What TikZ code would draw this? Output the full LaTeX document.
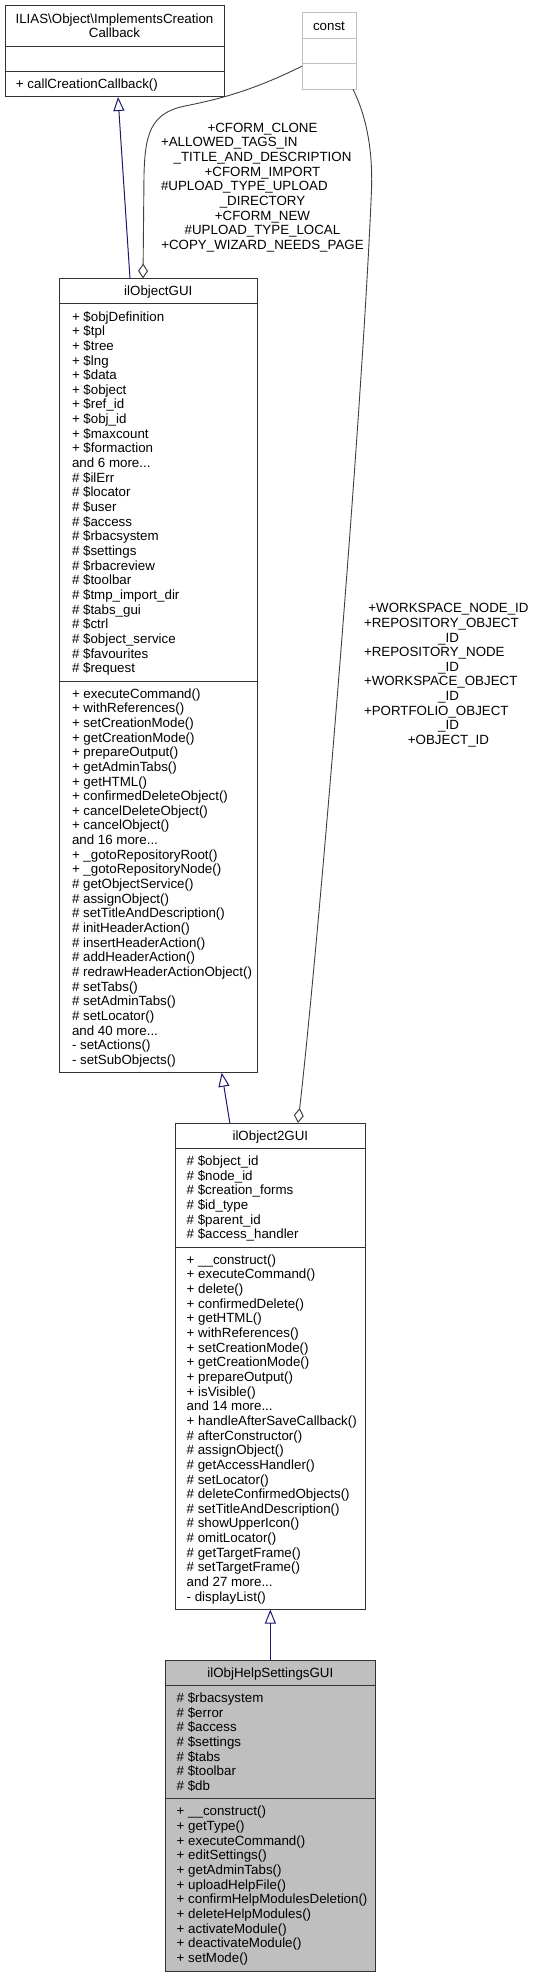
\documentclass[tikz,border=0pt]{standalone}
\usepackage{fontspec}
\setmainfont{Liberation Sans}
\usetikzlibrary{arrows.meta}
\definecolor{inhcol}{HTML}{191970}
\definecolor{aggcol}{HTML}{404040}
\definecolor{boxcol}{HTML}{333333}
\definecolor{constcol}{HTML}{BFBFBF}
\definecolor{curfill}{HTML}{BFBFBF}
\newcommand{\tdots}{...}
\tikzset{
  cls/.style={draw=boxcol, line width=1pt, fill=white, inner sep=0pt, outer sep=0pt, anchor=north west},
  sepline/.style={draw=boxcol, line width=1pt},
  txt/.style={inner sep=0pt, outer sep=0pt, font=\fontsize{13.33}{14.65}\selectfont, text=black},
  inh/.style={draw=inhcol, line width=1pt, -{Triangle[open, length=14pt, width=11pt, line width=1pt]}},
  agg/.style={draw=aggcol, line width=0.9pt, -{Diamond[open, length=15pt, width=10pt, line width=1pt]}},
}
\begin{document}
\begin{tikzpicture}[x=1pt, y=-1pt]
\useasboundingbox (0,0) rectangle (537,1977);

% ---------- ILIAS\Object\ImplementsCreationCallback ----------
\node[cls, minimum width=219pt, minimum height=91pt] (cb) at (5,6) {};
\draw[sepline] (5,46.1) -- (224,46.1);
\draw[sepline] (5,71.55) -- (224,71.55);
\node[txt, anchor=base] (cbt1) at (114.5,23.1) {ILIAS\textbackslash Object\textbackslash ImplementsCreation};
\node[txt, anchor=base] (cbt2) at (114.5,37.75) {Callback};
\node[txt, anchor=base west] (cbm0) at (16,88.65) {+ callCreationCallback()};

% ---------- const ----------
\node[cls, draw=constcol, minimum width=54pt, minimum height=76.35pt] (cst) at (302,13) {};
\draw[sepline, draw=constcol] (302,38.45) -- (356,38.45);
\draw[sepline, draw=constcol] (302,63.9) -- (356,63.9);
\node[txt, anchor=base] (cstt) at (329,30.1) {const};

% ---------- ilObjectGUI ----------
\node[cls, minimum width=198pt, minimum height=794.2pt] (ogui) at (59.3,278.5) {};
\draw[sepline] (59.3,303.95) -- (257.3,303.95);
\draw[sepline] (59.3,681) -- (257.3,681);
\node[txt, anchor=base] (oguit) at (158.3,295.6) {ilObjectGUI};
\foreach \t [count=\i from 0] in {
  {+ \$objDefinition}, {+ \$tpl}, {+ \$tree}, {+ \$lng}, {+ \$data}, {+ \$object},
  {+ \$ref\_id}, {+ \$obj\_id}, {+ \$maxcount}, {+ \$formaction}, {and 6 more\tdots},
  {\# \$ilErr}, {\# \$locator}, {\# \$user}, {\# \$access}, {\# \$rbacsystem},
  {\# \$settings}, {\# \$rbacreview}, {\# \$toolbar}, {\# \$tmp\_import\_dir},
  {\# \$tabs\_gui}, {\# \$ctrl}, {\# \$object\_service}, {\# \$favourites}, {\# \$request}}
  \node[txt, anchor=base west] (oga\i) at (72, 321.05+\i*14.65) {\t};
\foreach \t [count=\i from 0] in {
  {+ executeCommand()}, {+ withReferences()}, {+ setCreationMode()}, {+ getCreationMode()},
  {+ prepareOutput()}, {+ getAdminTabs()}, {+ getHTML()}, {+ confirmedDeleteObject()},
  {+ cancelDeleteObject()}, {+ cancelObject()}, {and 16 more\tdots},
  {+ \_gotoRepositoryRoot()}, {+ \_gotoRepositoryNode()}, {\# getObjectService()},
  {\# assignObject()}, {\# setTitleAndDescription()}, {\# initHeaderAction()},
  {\# insertHeaderAction()}, {\# addHeaderAction()}, {\# redrawHeaderActionObject()},
  {\# setTabs()}, {\# setAdminTabs()}, {\# setLocator()}, {and 40 more\tdots},
  {- setActions()}, {- setSubObjects()}}
  \node[txt, anchor=base west] (ogm\i) at (72, 698.1+\i*14.65) {\t};

% ---------- ilObject2GUI ----------
\node[cls, minimum width=189.3pt, minimum height=486.55pt] (o2) at (175.7,1123) {};
\draw[sepline] (175.7,1148.45) -- (365,1148.45);
\draw[sepline] (175.7,1247.15) -- (365,1247.15);
\node[txt, anchor=base] (o2t) at (270.35,1140.1) {ilObject2GUI};
\foreach \t [count=\i from 0] in {
  {\# \$object\_id}, {\# \$node\_id}, {\# \$creation\_forms}, {\# \$id\_type},
  {\# \$parent\_id}, {\# \$access\_handler}}
  \node[txt, anchor=base west] (o2a\i) at (186.7, 1165.55+\i*14.65) {\t};
\foreach \t [count=\i from 0] in {
  {+ \_\_construct()}, {+ executeCommand()}, {+ delete()}, {+ confirmedDelete()},
  {+ getHTML()}, {+ withReferences()}, {+ setCreationMode()}, {+ getCreationMode()},
  {+ prepareOutput()}, {+ isVisible()}, {and 14 more\tdots}, {+ handleAfterSaveCallback()},
  {\# afterConstructor()}, {\# assignObject()}, {\# getAccessHandler()}, {\# setLocator()},
  {\# deleteConfirmedObjects()}, {\# setTitleAndDescription()}, {\# showUpperIcon()},
  {\# omitLocator()}, {\# getTargetFrame()}, {\# setTargetFrame()}, {and 27 more\tdots},
  {- displayList()}}
  \node[txt, anchor=base west] (o2m\i) at (186.7, 1264.25+\i*14.65) {\t};

% ---------- ilObjHelpSettingsGUI ----------
\node[cls, fill=curfill, minimum width=209.3pt, minimum height=311.5pt] (help) at (165.7,1660) {};
\draw[sepline] (165.7,1685.45) -- (375,1685.45);
\draw[sepline] (165.7,1798.8) -- (375,1798.8);
\node[txt, anchor=base] (helpt) at (270.35,1677.1) {ilObjHelpSettingsGUI};
\foreach \t [count=\i from 0] in {
  {\# \$rbacsystem}, {\# \$error}, {\# \$access}, {\# \$settings}, {\# \$tabs},
  {\# \$toolbar}, {\# \$db}}
  \node[txt, anchor=base west] (hla\i) at (176.7, 1702.55+\i*14.65) {\t};
\foreach \t [count=\i from 0] in {
  {+ \_\_construct()}, {+ getType()}, {+ executeCommand()}, {+ editSettings()},
  {+ getAdminTabs()}, {+ uploadHelpFile()}, {+ confirmHelpModulesDeletion()},
  {+ deleteHelpModules()}, {+ activateModule()}, {+ deactivateModule()}, {+ setMode()}}
  \node[txt, anchor=base west] (hlm\i) at (176.7, 1815.9+\i*14.65) {\t};

% ---------- inheritance edges ----------
\draw[inh] ([xshift=-28.3pt]ogui.north) -- ([xshift=3.5pt]cb.south);
\draw[inh] ([xshift=-40.5pt]o2.north) -- ([xshift=63.4pt]ogui.south);
\draw[inh] (help.north) -- (o2.south);

% ---------- usage edges ----------
\draw[agg] ([yshift=-15pt]cst.west) .. controls (250,92) and (215,100) .. (185,106)
  .. controls (150,113) and (145,135) .. (144,175) -- ([xshift=-15.3pt]ogui.north);
\draw[agg] ([xshift=-3pt]cst.south east) .. controls (366,115) and (373,150) .. (371.5,190)
  .. controls (362,420) and (318,950) .. ([xshift=27.6pt]o2.north);

% ---------- edge labels ----------
\node[txt, anchor=base] (l1a) at (262.5,132.2) {+CFORM\_CLONE};
\node[txt, anchor=base west] (l1b) at (161,146.85) {+ALLOWED\_TAGS\_IN};
\node[txt, anchor=base] (l1c) at (262.5,161.5) {\_TITLE\_AND\_DESCRIPTION};
\node[txt, anchor=base] (l1d) at (262.5,176.15) {+CFORM\_IMPORT};
\node[txt, anchor=base west] (l1e) at (161,190.8) {\#UPLOAD\_TYPE\_UPLOAD};
\node[txt, anchor=base] (l1f) at (262.5,205.45) {\_DIRECTORY};
\node[txt, anchor=base] (l1g) at (262.5,220.1) {+CFORM\_NEW};
\node[txt, anchor=base] (l1h) at (262.5,234.75) {\#UPLOAD\_TYPE\_LOCAL};
\node[txt, anchor=base] (l1i) at (262.5,249.4) {+COPY\_WIZARD\_NEEDS\_PAGE};

\node[txt, anchor=base] (l2a) at (448.5,612.7) {+WORKSPACE\_NODE\_ID};
\node[txt, anchor=base west] (l2b) at (364,627.35) {+REPOSITORY\_OBJECT};
\node[txt, anchor=base] (l2c) at (448.5,642) {\_ID};
\node[txt, anchor=base west] (l2d) at (364,656.65) {+REPOSITORY\_NODE};
\node[txt, anchor=base] (l2e) at (448.5,671.3) {\_ID};
\node[txt, anchor=base west] (l2f) at (364,685.95) {+WORKSPACE\_OBJECT};
\node[txt, anchor=base] (l2g) at (448.5,700.6) {\_ID};
\node[txt, anchor=base west] (l2h) at (364,715.25) {+PORTFOLIO\_OBJECT};
\node[txt, anchor=base] (l2i) at (448.5,729.9) {\_ID};
\node[txt, anchor=base] (l2j) at (448.5,744.55) {+OBJECT\_ID};
\end{tikzpicture}
\end{document}
